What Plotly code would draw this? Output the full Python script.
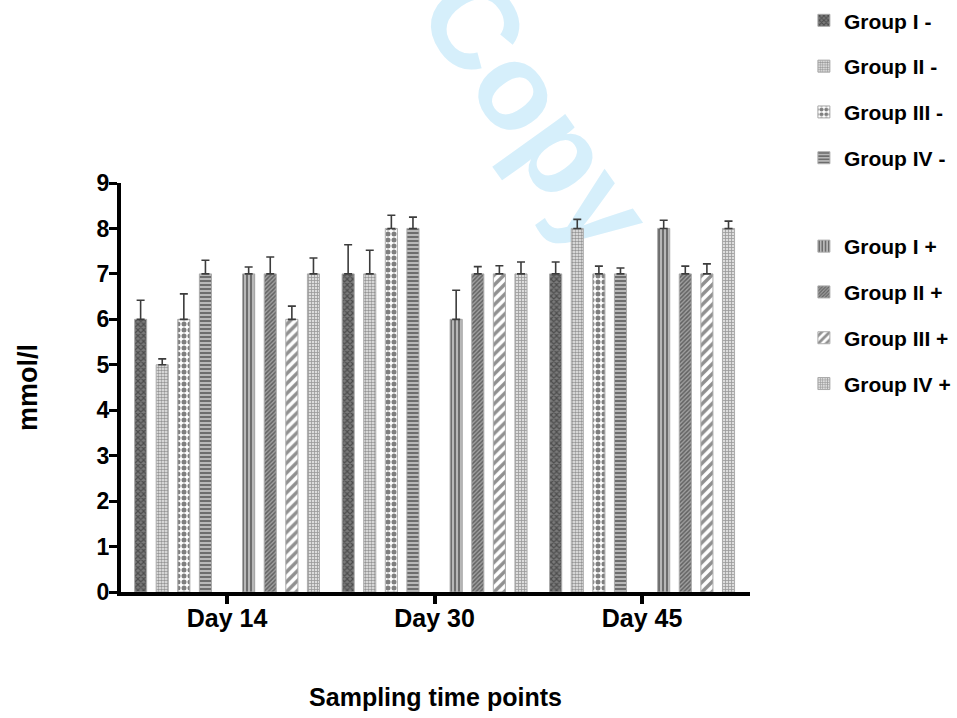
import plotly.graph_objects as go

days = ["Day 14", "Day 30", "Day 45"]

group_names = ["Group I -", "Group II -", "Group III -", "Group IV -", " ",
               "Group I +", "Group II +", "Group III +", "Group IV +"]

g1_minus = [6, 7, 7]
g2_minus = [5, 7, 8]
g3_minus = [6, 8, 7]
g4_minus = [7, 8, 7]
blank = [0, 0, 0]
g1_plus = [7, 6, 8]
g2_plus = [7, 7, 7]
g3_plus = [6, 7, 7]
g4_plus = [7, 7, 8]

e1_minus = [0.42, 0.64, 0.26]
e2_minus = [0.13, 0.52, 0.20]
e3_minus = [0.56, 0.29, 0.17]
e4_minus = [0.30, 0.25, 0.13]
e_blank = [0, 0, 0]
e1_plus = [0.15, 0.64, 0.18]
e2_plus = [0.37, 0.16, 0.17]
e3_plus = [0.29, 0.18, 0.22]
e4_plus = [0.35, 0.26, 0.16]

series = [g1_minus, g2_minus, g3_minus, g4_minus, blank, g1_plus, g2_plus, g3_plus, g4_plus]
errors = [e1_minus, e2_minus, e3_minus, e4_minus, e_blank, e1_plus, e2_plus, e3_plus, e4_plus]
legend_ids = ["legend", "legend", "legend", "legend", None,
              "legend2", "legend2", "legend2", "legend2"]

patterns = [
    dict(shape="x", fgcolor="#1e1e1e", bgcolor="#7a7a7a", size=4, solidity=0.5),
    dict(shape=".", fgcolor="#3a3a3a", bgcolor="#f0f0f0", size=3, solidity=0.55),
    dict(shape=".", fgcolor="#000000", bgcolor="#ffffff", size=6, solidity=0.55),
    dict(shape="-", fgcolor="#222222", bgcolor="#b8b8b8", size=4, solidity=0.5),
    None,
    dict(shape="|", fgcolor="#222222", bgcolor="#b8b8b8", size=4, solidity=0.5),
    dict(shape="/", fgcolor="#222222", bgcolor="#a0a0a0", size=3, solidity=0.5),
    dict(shape="/", fgcolor="#222222", bgcolor="#ffffff", size=7, solidity=0.5),
    dict(shape="+", fgcolor="#555555", bgcolor="#dddddd", size=3, solidity=0.45),
]

FONT = "Liberation Sans, Arial, sans-serif"

fig = go.Figure()
for name, vals, errs, pat, lg in zip(group_names, series, errors, patterns, legend_ids):
    if pat is None:
        fig.add_trace(go.Bar(
            x=days, y=vals, name=name, showlegend=False,
            marker=dict(color="rgba(0,0,0,0)", line=dict(width=0)),
            hoverinfo="skip",
        ))
    else:
        fig.add_trace(go.Bar(
            x=days, y=vals, name=name, legendgroup=name, legend=lg,
            marker=dict(color=pat["bgcolor"], pattern=pat,
                        line=dict(color="#aaaaaa", width=1)),
            error_y=dict(type="data", symmetric=False, array=errs,
                         arrayminus=[0] * len(errs),
                         color="#3c3c3c", thickness=1.6, width=4),
        ))

legend_style = dict(
    x=1.0857, xanchor="left", yanchor="top",
    font=dict(family=FONT, size=21, weight="bold", color="black"),
    tracegroupgap=15.5, itemwidth=30, bgcolor="rgba(0,0,0,0)",
)

fig.update_layout(
    width=957, height=718,
    margin=dict(l=121, r=207, t=183, b=126, autoexpand=False),
    plot_bgcolor="rgba(0,0,0,0)", paper_bgcolor="white",
    barmode="group", bargap=0.063, bargroupgap=0.44,
    font=dict(family=FONT, color="black"),
    showlegend=True,
    legend=dict(legend_style, y=1.447, maxheight=1.0),
    legend2=dict(legend_style, y=0.8949, maxheight=1.0),
    xaxis=dict(
        range=[-0.511, 2.52], showline=True, linecolor="black", linewidth=4,
        ticks="outside", ticklen=8, tickwidth=4, tickcolor="black",
        tickfont=dict(family=FONT, size=25, weight="bold"),
        ticklabelstandoff=-7,
        showgrid=False, zeroline=False, automargin=False,
        title=dict(text="Sampling time points",
                   font=dict(family=FONT, size=25, weight="bold"), standoff=58),
    ),
    yaxis=dict(
        range=[0, 9], dtick=1, showline=True, linecolor="black", linewidth=4,
        ticks="outside", ticklen=8, tickwidth=3, tickcolor="black",
        tickfont=dict(family=FONT, size=23, weight="bold"),
        ticklabelstandoff=-5,
        showgrid=False, zeroline=False, automargin=False,
        title=dict(text="mmol/l",
                   font=dict(family=FONT, size=27, weight="bold"), standoff=52),
    ),
    shapes=[dict(
        type="rect", xref="paper", yref="paper",
        x0=0.616, x1=0.736, y0=1.15, y1=1.23,
        line=dict(width=0), fillcolor="rgba(0,0,0,0)", layer="below",
        label=dict(text="<b>Copy</b>", textangle=54.5,
                   textposition="middle center",
                   font=dict(family=FONT, size=122, color="#d6effb")),
    )],
)

fig.write_html("out.html", config={"displayModeBar": False},
               post_script="document.body.style.margin='0px';")
